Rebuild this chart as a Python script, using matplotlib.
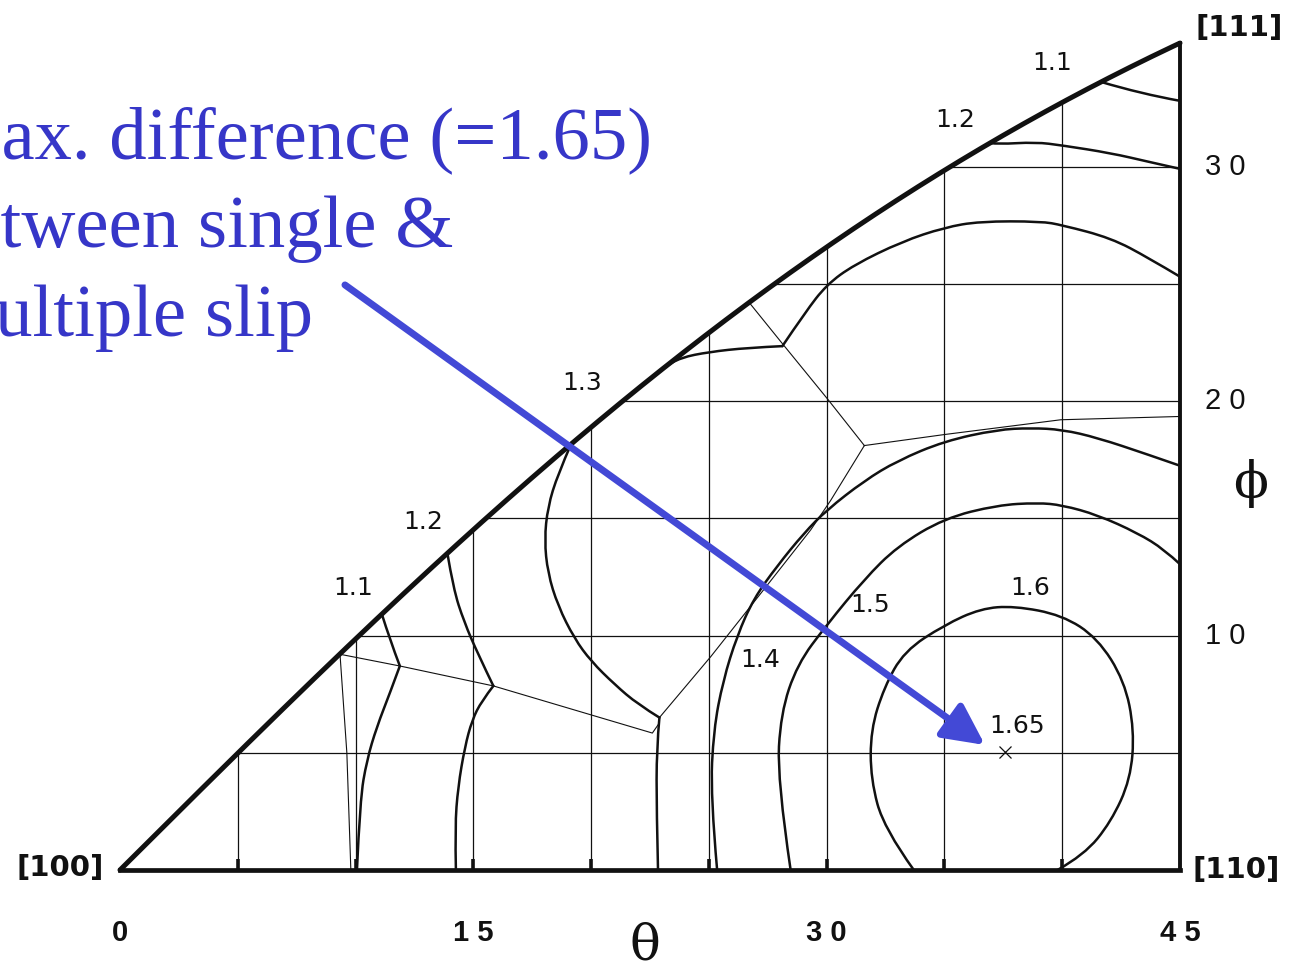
import numpy as np
import matplotlib
matplotlib.use("Agg")
import matplotlib.pyplot as plt
from matplotlib.path import Path
from matplotlib.patches import PathPatch

# ---------------- data (theta, phi in degrees) ----------------
grid_theta = [5, 10, 15, 20, 25, 30, 35, 40]
grid_phi = [5, 10, 15, 20, 25, 30]
x_tick_labels = ["0", "1 5", "3 0", "4 5"]
x_tick_values = [0, 15, 30, 45]
y_tick_labels = ["1 0", "2 0", "3 0"]
y_tick_values = [10, 20, 30]

# contour 1.1 (left, near [100])
c11a_theta = [11.12, 11.46, 11.88, 11.46, 10.9, 10.48, 10.19, 10.06]
c11a_phi = [10.9, 9.81, 8.7, 7.55, 6.1, 4.69, 2.99, 0.0]
# contour 1.2 (left)
c12a_theta = [13.9, 14.15, 14.6, 15.2, 15.85, 15.35, 14.95, 14.64, 14.35, 14.22, 14.26]
c12a_phi = [13.5, 12.0, 10.6, 9.2, 7.85, 7.2, 6.4, 5.25, 3.54, 1.83, 0.0]
# contour 1.3 (left arc + lower branch)
c13a_theta = [19.15, 18.59, 18.16, 18.02, 18.16, 18.59, 19.29, 20.0, 21.0, 21.98, 22.9,
              22.78, 22.78, 22.84]
c13a_phi = [18.16, 16.88, 15.48, 14.08, 12.67, 11.27, 9.87, 8.9, 7.91, 7.07, 6.5,
            5.2, 2.5, 0.0]
# contour 1.3 (upper, kinked)
c13b_theta = [22.8, 23.1, 23.8, 25.0, 26.64, 28.12, 29.1, 30.0, 31.15, 33.2, 35.0,
              36.5, 39.1, 40.0, 42.07, 43.67, 45.0]
c13b_phi = [21.2, 21.43, 21.85, 22.09, 22.27, 22.34, 23.8, 24.96, 25.8, 26.8, 27.4,
            27.66, 27.66, 27.5, 26.95, 26.1, 25.3]
# contour 1.2 (near [111])
c12b_theta = [36.95, 37.27, 38.87, 40.0, 42.07, 43.67, 45.0]
c12b_phi = [31.0, 30.95, 31.04, 30.9, 30.57, 30.2, 29.9]
# contour 1.1 (near [111])
c11b_theta = [41.67, 43.35, 45.0]
c11b_phi = [33.6, 33.1, 32.8]
# contour 1.4
c14_theta = [25.35, 25.07, 25.2, 25.6, 26.2, 26.9, 27.9, 29.04, 30.0, 31.6, 33.0, 35.0,
             37.25, 38.67, 40.0, 41.5, 43.6, 45.0]
c14_phi = [0.0, 3.17, 5.97, 8.07, 10.0, 11.57, 12.97, 14.37, 15.35, 16.6, 17.45, 18.29,
           18.78, 18.85, 18.78, 18.43, 17.73, 17.24]
# contour 1.5
c15_theta = [28.47, 27.9, 28.05, 28.75, 30.0, 31.6, 33.0, 35.0, 37.25, 38.95, 40.0,
             41.5, 43.2, 44.33, 45.0]
c15_phi = [0.0, 3.87, 6.67, 8.77, 10.45, 12.4, 13.8, 15.0, 15.56, 15.66, 15.56,
           15.14, 14.37, 13.67, 13.04]
# contour 1.6
c16_theta = [33.7, 32.44, 31.87, 31.87, 32.44, 33.29, 35.0, 36.54, 37.96, 40.0, 41.5,
             42.64, 43.06, 42.9, 42.07, 40.93, 39.8]
c16_phi = [0.0, 1.76, 3.87, 5.97, 7.79, 9.33, 10.45, 11.15, 11.26, 10.87, 9.89,
           8.07, 5.97, 3.87, 2.05, 0.64, 0.0]

# thin slip-regime boundaries
tA_theta = [9.34, 9.63, 9.8]
tA_phi = [9.2, 5.0, 0.0]
tB_theta = [9.34, 11.88, 15.85, 22.6, 22.85]
tB_phi = [9.2, 8.7, 7.85, 5.84, 6.2]
tC_theta = [22.9, 25.08, 27.34, 29.32, 30.17, 31.6]
tC_phi = [6.5, 9.1, 11.97, 14.5, 15.76, 18.1]
tD_theta = [31.6, 30.05, 28.15, 26.71]
tD_phi = [18.1, 20.07, 22.41, 24.2]
tE_theta = [31.6, 35.0, 39.94, 45.0]
tE_phi = [18.1, 18.57, 19.2, 19.34]

# contour labels
lab_text = ["1.1", "1.2", "1.3", "1.2", "1.1", "1.4", "1.5", "1.6", "1.65"]
lab_theta = [9.89, 12.86, 19.6, 35.44, 39.56, 27.16, 31.83, 38.62, 38.07]
lab_phi = [12.03, 14.84, 20.77, 31.98, 34.41, 8.96, 11.3, 12.03, 6.14]
max_theta, max_phi = 37.56, 5.03

# annotation arrow (start, end)
arrow_start = (9.55, 24.95)
arrow_end = (36.72, 5.33)
note_lines = ["Max. difference (=1.65)", "between single &", "multiple slip"]

# ---------------- figure ----------------
W, H = 1289, 969
fig = plt.figure(figsize=(W / 100, H / 100), dpi=100)
pxy = 23.45
ymax = 36.0
ax = fig.add_axes([120 / W, (H - 870) / H, 1060 / W, ymax * pxy / H])
ax.set_xlim(0, 45)
ax.set_ylim(0, ymax)
ax.axis("off")

blk = "#111111"


def bnd(t):
    return np.degrees(np.arctan(np.sin(np.radians(t))))


def smooth(th, ph, kinks=(), lw=1.8):
    """Draw a smooth curve through the read points using quadratic Bezier
    segments (matplotlib Path), keeping sharp corners at kink indices."""
    pts = list(zip(th, ph))
    cuts = [0] + sorted(kinks) + [len(pts) - 1]
    for a, b in zip(cuts[:-1], cuts[1:]):
        seg = pts[a:b + 1]
        verts = [seg[0]]
        codes = [Path.MOVETO]
        if len(seg) == 2:
            verts.append(seg[1]); codes.append(Path.LINETO)
        else:
            for i in range(1, len(seg) - 1):
                c = seg[i]
                if i < len(seg) - 2:
                    e = ((seg[i][0] + seg[i + 1][0]) / 2, (seg[i][1] + seg[i + 1][1]) / 2)
                else:
                    e = seg[i + 1]
                verts += [c, e]
                codes += [Path.CURVE3, Path.CURVE3]
        ax.add_patch(PathPatch(Path(verts, codes), fill=False, edgecolor=blk,
                               lw=lw, capstyle="round", joinstyle="round"))


# grid
for t in grid_theta:
    ax.plot([t, t], [0, bnd(t)], color=blk, lw=0.9, solid_capstyle="butt")
    ax.plot([t, t], [0, 0.45], color=blk, lw=2.6, solid_capstyle="butt")
for p in grid_phi:
    t0 = np.degrees(np.arcsin(np.tan(np.radians(p))))
    ax.plot([t0, 45], [p, p], color=blk, lw=0.9)

# outline
tt = np.linspace(0, 45, 300)
ax.plot(tt, bnd(tt), color=blk, lw=3.6, solid_capstyle="round", clip_on=False)
ax.plot([0, 45], [0, 0], color=blk, lw=3.4, clip_on=False)
ax.plot([45, 45], [0, bnd(45)], color=blk, lw=2.8, clip_on=False)

# thin regime lines
for th, ph in [(tA_theta, tA_phi), (tB_theta, tB_phi), (tC_theta, tC_phi),
               (tD_theta, tD_phi), (tE_theta, tE_phi)]:
    ax.plot(th, ph, color=blk, lw=0.8)

# contours
smooth(c11a_theta, c11a_phi, kinks=[2])
smooth(c12a_theta, c12a_phi, kinks=[4])
smooth(c13a_theta, c13a_phi, kinks=[10])
smooth(c13b_theta, c13b_phi, kinks=[5])
smooth(c12b_theta, c12b_phi)
smooth(c11b_theta, c11b_phi)
smooth(c14_theta, c14_phi)
smooth(c15_theta, c15_phi)
smooth(c16_theta, c16_phi)

# labels
for s, t, p in zip(lab_text, lab_theta, lab_phi):
    ax.text(t, p, s, fontsize=18, family="DejaVu Sans", color=blk,
            ha="center", va="center")
ax.plot([max_theta], [max_phi], marker="x", ms=9, mew=0.9, color=blk)

for s, v in zip(x_tick_labels, x_tick_values):
    ax.text(v, -2.7, s, fontsize=21, family="Liberation Sans", weight="bold",
            ha="center", va="center", color=blk, clip_on=False)
for s, v in zip(y_tick_labels, y_tick_values):
    ax.text(46.9, v, s, fontsize=21, family="Liberation Sans",
            ha="center", va="center", color=blk, clip_on=False)

ax.text(22.28, -3.25, "θ", fontsize=37, family="DejaVu Serif", ha="center",
        va="center", color=blk)
ax.text(48.0, 16.5, "ϕ", fontsize=37, family="DejaVu Serif", ha="center",
        va="center", color=blk)

ax.text(47.5, 35.9, "[111]", fontsize=21, family="DejaVu Sans", weight="bold",
        ha="center", va="center", color=blk)
ax.text(47.4, 0.0, "[110]", fontsize=21, family="DejaVu Sans", weight="bold",
        ha="center", va="center", color=blk)
ax.text(-2.55, 0.1, "[100]", fontsize=21, family="DejaVu Sans", weight="bold",
        ha="center", va="center", color=blk)

# blue annotation
ax.annotate("", xy=arrow_end, xytext=arrow_start,
            arrowprops=dict(arrowstyle="-|>,head_length=1.0,head_width=0.5",
                            mutation_scale=25, lw=5, color="#4349d6",
                            shrinkA=0, shrinkB=0))
blue = "#3636c8"
fig.text(-65 / W, 1 - 158 / H, note_lines[0], fontsize=53.8, family="Liberation Serif",
         color=blue, ha="left", va="baseline")
fig.text(-70 / W, 1 - 247 / H, note_lines[1], fontsize=53.8, family="Liberation Serif",
         color=blue, ha="left", va="baseline")
fig.text(-63 / W, 1 - 336 / H, note_lines[2], fontsize=53.8, family="Liberation Serif",
         color=blue, ha="left", va="baseline")

fig.savefig("out.png", dpi=100, facecolor="white")
